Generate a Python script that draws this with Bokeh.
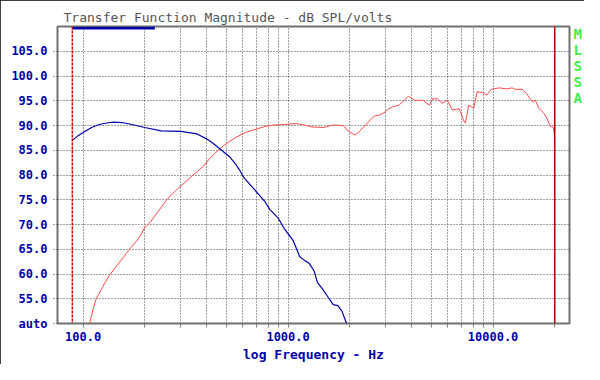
from bokeh.plotting import figure
from bokeh.models import Range1d, FixedTicker, PrintfTickFormatter, Span, LinearAxis
from bokeh.embed import file_html
from bokeh.resources import INLINE

# ---- data ----
blue_freq = [88.6, 95, 100, 110, 120, 130, 141, 155, 173, 200, 240, 300, 360, 400, 430,
             464, 518, 557, 578, 610, 681, 771, 816, 895, 960, 1057, 1140, 1200, 1270,
             1340, 1390, 1470, 1580, 1660, 1750, 1830, 1930]
blue_db = [87.0, 88.0, 88.6, 89.6, 90.2, 90.5, 90.7, 90.6, 90.2, 89.6, 88.9, 88.8, 88.3,
           87.3, 86.4, 85.3, 83.7, 82.1, 81.1, 79.4, 77.2, 74.6, 73.0, 71.3, 69.1, 66.8,
           63.5, 62.8, 62.1, 60.6, 58.3, 57.0, 55.1, 53.8, 53.6, 52.5, 50.0]

red_freq = [107.6, 112, 115.8, 125, 134, 152, 167, 186, 200, 212, 232, 259, 289, 334, 387,
            416, 464, 510, 557, 620, 690, 770, 850, 960, 1090, 1200, 1310, 1490, 1660,
            1860, 1960, 2110, 2180, 2400, 2630, 2800, 2990, 3100, 3240, 3470, 3650, 3860,
            4000, 4150, 4540, 4890, 5070, 5350, 5650, 5980, 6340, 6830, 7050, 7200, 7330,
            7450, 7600, 8050, 8360, 8960, 9300, 9800, 10700, 11600, 12400, 12900, 13900,
            14600, 15500, 16100, 16700, 17700, 18300, 19000, 19700, 19900]
red_db = [50.0, 53.0, 55.0, 57.5, 59.7, 62.6, 64.8, 67.1, 69.4, 70.4, 72.6, 75.3, 77.2,
          79.5, 81.8, 83.4, 85.3, 86.6, 87.6, 88.6, 89.2, 89.8, 90.1, 90.2, 90.4, 90.1,
          89.7, 89.6, 90.1, 90.0, 88.9, 88.1, 88.4, 90.2, 91.9, 92.1, 92.8, 93.4, 93.8,
          94.1, 94.9, 95.9, 95.5, 95.1, 95.1, 94.1, 95.4, 95.4, 94.5, 95.1, 93.1, 93.4,
          92.0, 90.9, 90.5, 92.0, 94.1, 93.5, 96.8, 96.6, 96.1, 97.3, 97.6, 97.4, 97.6,
          97.3, 97.3, 96.4, 94.8, 95.1, 93.5, 92.5, 91.5, 89.9, 89.6, 88.3]

x_major = [100, 1000, 10000]
x_minor = [200, 300, 400, 500, 600, 700, 800, 900,
           2000, 3000, 4000, 5000, 6000, 7000, 8000, 9000, 20000]
y_ticks = [50, 55, 60, 65, 70, 75, 80, 85, 90, 95, 100, 105]
cursor_left = 88.6      # dashed red marker
cursor_right = 20000    # solid red marker
gate_bar = [88.6, 224]  # blue bar at the top
side_letters = ["M", "L", "S", "S", "A"]
side_letter_db = [108.4, 105.2, 102.0, 98.8, 95.6]

MONO = "DejaVu Sans Mono"
BLUE = "#0000AA"

p = figure(width=584, height=364, x_axis_type="log",
           x_range=Range1d(75, 23600), y_range=Range1d(50, 110),
           output_backend="svg", toolbar_location=None,
           min_border_left=57, min_border_right=4, min_border_top=26, min_border_bottom=40,
           title="Transfer Function Magnitude - dB SPL/volts")

p.styles = {"outline": "2px solid black", "outline-offset": "-2px"}
p.background_fill_color = "white"
p.border_fill_color = "white"
p.outline_line_color = "#707070"
p.outline_line_width = 2

p.title.text_font = MONO
p.title.text_font_size = "13px"
p.title.text_font_style = "normal"
p.title.text_color = "#555555"
p.title.align = "left"
p.title.offset = 6
p.title.standoff = 4

# axes
xa = p.xaxis[0]
xa.ticker = FixedTicker(ticks=x_major, minor_ticks=x_minor)
xa.formatter = PrintfTickFormatter(format="%.1f")
xa.axis_label = "log Frequency - Hz"
ya = p.yaxis[0]
ya.ticker = FixedTicker(ticks=y_ticks)
ya.formatter = PrintfTickFormatter(format="%.1f")
ya.major_label_overrides = {50: "auto"}

for ax in (xa, ya):
    ax.axis_line_color = None
    ax.major_label_text_font = MONO
    ax.major_label_text_font_size = "12px"
    ax.major_label_text_font_style = "bold"
    ax.major_label_text_color = BLUE
    ax.major_tick_in = 0
    ax.major_tick_out = 4
    ax.minor_tick_in = 0
    ax.minor_tick_out = 4
    ax.major_tick_line_color = "#808080"
    ax.minor_tick_line_color = "#808080"
    ax.axis_label_text_font = MONO
    ax.axis_label_text_font_size = "13px"
    ax.axis_label_text_font_style = "bold"
    ax.axis_label_text_color = BLUE

ya.major_tick_line_color = "#404040"
ya.major_tick_line_dash = "1 2"
ya.major_label_standoff = 6
xa.major_label_standoff = 4
xa.axis_label_standoff = 3

# right-side vertical "MLSSA" tag, drawn as a label-only axis
side = LinearAxis(ticker=FixedTicker(ticks=side_letter_db),
                  major_label_overrides=dict(zip(side_letter_db, side_letters)),
                  axis_line_color=None, major_tick_line_color=None,
                  minor_tick_line_color=None, major_tick_out=0, major_tick_in=0,
                  minor_tick_out=0, minor_tick_in=0,
                  major_label_standoff=4, major_label_text_font=MONO,
                  major_label_text_font_size="14px", major_label_text_font_style="bold",
                  major_label_text_color="#44EE44")
p.add_layout(side, "right")

p.xgrid.grid_line_color = "#404040"
p.xgrid.grid_line_dash = "1 2"
p.xgrid.minor_grid_line_color = "#404040"
p.xgrid.minor_grid_line_dash = "1 2"
p.ygrid.grid_line_color = "#404040"
p.ygrid.grid_line_dash = "1 2"

# markers
p.add_layout(Span(location=cursor_left, dimension="height", line_color="#CC0000",
                  line_width=1.5, line_dash="3 1"))
p.add_layout(Span(location=cursor_right, dimension="height", line_color="#B00000",
                  line_width=1.5))
p.quad(left=[gate_bar[0]], right=[gate_bar[1]], bottom=[109.4], top=[109.95],
       fill_color=BLUE, line_color=None)

# curves
p.line(red_freq, red_db, line_color="#FF4A4A", line_width=1.0)
p.line(blue_freq, blue_db, line_color=BLUE, line_width=1.2)

open("out.html", "w").write(file_html(p, INLINE))
